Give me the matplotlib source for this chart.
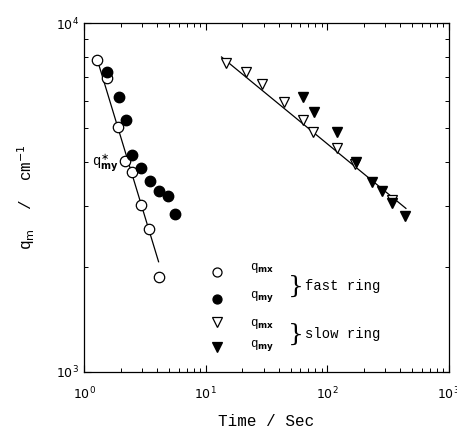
import numpy as np
import matplotlib
matplotlib.use('Agg')
import matplotlib.pyplot as plt

# fast ring
fast_t_mx = [1.27, 1.55, 1.91, 2.19, 2.48, 2.96, 3.44, 4.10]
fast_q_mx = [7830, 6950, 5045, 4025, 3750, 3013, 2570, 1870]
fast_t_my = [1.53, 1.93, 2.21, 2.48, 2.96, 3.46, 4.12, 4.91, 5.61]
fast_q_my = [7245, 6125, 5270, 4200, 3850, 3530, 3300, 3187, 2837]
fast_fit_t = [1.31, 4.10]
fast_fit_q = [7680, 2070]

# slow ring
slow_t_mx = [14.6, 21.3, 29.1, 43.7, 62.9, 75.9, 121, 170, 341]
slow_q_mx = [7670, 7230, 6690, 5950, 5290, 4880, 4400, 3940, 3110]
slow_t_my = [63.7, 77.9, 121, 173, 233, 281, 341, 439]
slow_q_my = [6150, 5550, 4885, 4010, 3500, 3300, 3060, 2805]
slow_fit_t = [13.5, 444]
slow_fit_q = [8000, 2944]

mono = 'Liberation Mono'

fig = plt.figure(figsize=(4.57, 4.29), dpi=100)
ax = fig.add_axes([0.184, 0.133, 0.798, 0.813])
ax.set_xscale('log')
ax.set_yscale('log')
ax.set_xlim(1, 1000)
ax.set_ylim(1000, 10000)

ax.plot(fast_fit_t, fast_fit_q, color='black', lw=0.9)
ax.plot(slow_fit_t, slow_fit_q, color='black', lw=0.9)

ax.plot(fast_t_mx, fast_q_mx, 'o', ms=7.5, mfc='white', mec='black', mew=0.9, ls='none')
ax.plot(fast_t_my, fast_q_my, 'o', ms=7.5, mfc='black', mec='black', ls='none')
ax.plot(slow_t_mx, slow_q_mx, 'v', ms=7.5, mfc='white', mec='black', mew=0.9, ls='none')
ax.plot(slow_t_my, slow_q_my, 'v', ms=7.5, mfc='black', mec='black', ls='none')

# annotation near the fast ring
ax.text(1.16, 3975, r'q$_{\mathbf{my}}^{\ast}$', fontsize=10, family=mono, va='center')

# hand-made legend (axes fractions)
leg_marks = [('o', 'white', 0.287), ('o', 'black', 0.208), ('v', 'white', 0.144), ('v', 'black', 0.071)]
leg_labels = [r'q$_{\mathbf{mx}}$', r'q$_{\mathbf{my}}$', r'q$_{\mathbf{mx}}$', r'q$_{\mathbf{my}}$']
leg_label_y = [0.298, 0.215, 0.138, 0.077]
for (m, fc, yy), lab, ly in zip(leg_marks, leg_labels, leg_label_y):
    ax.plot([0.364], [yy], marker=m, ms=6.5, mfc=fc, mec='black', mew=0.9,
            transform=ax.transAxes, ls='none', clip_on=False)
    ax.text(0.455, ly, lab, transform=ax.transAxes, fontsize=9, family=mono, va='center')

for yb, txt in [(0.245, 'fast ring'), (0.108, 'slow ring')]:
    ax.text(0.582, yb, '}', transform=ax.transAxes, fontsize=18,
            va='center', ha='center', family='DejaVu Serif', fontweight='light')
    ax.text(0.605, yb, txt, transform=ax.transAxes, fontsize=10,
            family=mono, va='center')

ax.set_xlabel('Time / Sec', family=mono, fontsize=11.5, labelpad=8)
ax.set_ylabel(r'q$_{\mathrm{m}}$  /  cm$^{-1}$', family=mono, fontsize=11.5, labelpad=14)

ax.tick_params(which='both', direction='in', top=True, right=True, labelsize=9)
ax.tick_params(which='major', length=5, width=0.8)
ax.tick_params(which='minor', length=3, width=0.7)
ax.tick_params(axis='x', pad=10)
for s in ax.spines.values():
    s.set_linewidth(0.9)

fig.savefig('out.png', dpi=100)
